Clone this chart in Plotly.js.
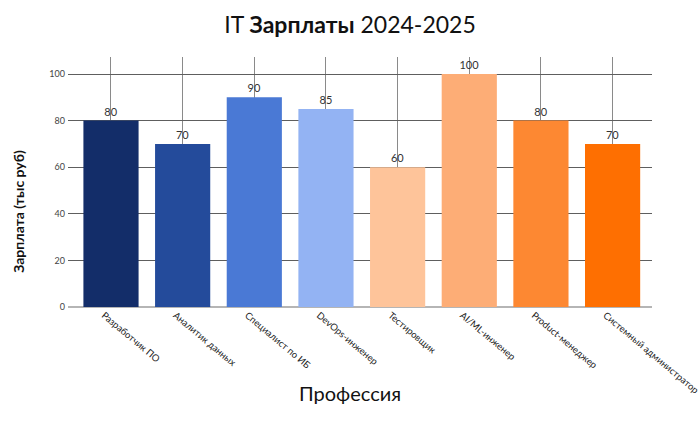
<!DOCTYPE html>
<html>
<head>
<meta charset="utf-8">
<script src="https://cdn.plot.ly/plotly-3.0.1.min.js"></script>
<style>
  html, body { margin: 0; padding: 0; background: #fff; }
  #chart { width: 700px; height: 422px; }
</style>
</head>
<body>
<div id="chart"></div>
<script>
// профессии и зарплаты (тыс руб)
var professions = ['Разработчик ПО', 'Аналитик данных', 'Специалист по ИБ', 'DevOps-инженер',
                   'Тестировщик', 'AI/ML-инженер', 'Product-менеджер', 'Системный администратор'];
var salaries = [80, 70, 90, 85, 60, 100, 80, 70];
var barColors = ['#132d69', '#244b9b', '#4a79d5', '#93b3f3', '#fec49a', '#fdad76', '#fd8832', '#fe6f01'];
var yTicks = [0, 20, 40, 60, 80, 100];

var font = 'Lato, "Open Sans", sans-serif';

var trace = {
    type: 'bar',
    x: professions,
    y: salaries,
    marker: { color: barColors, line: { width: 0 } },
    text: salaries.map(String),
    textposition: 'outside',
    cliponaxis: false,
    textfont: { family: font, size: 11, color: '#333' },
    hoverinfo: 'x+y'
};

var layout = {
    width: 700,
    height: 422,
    margin: { l: 68, r: 48, t: 57, b: 115 },
    paper_bgcolor: '#fff',
    plot_bgcolor: '#fff',
    bargap: 0.23,
    showlegend: false,
    font: { family: font, color: '#333' },
    title: {
        text: 'IT <b>Зарплаты</b> 2024-2025',
        font: { family: font, size: 23, color: '#111' },
        x: 0.5, xanchor: 'center',
        y: 0.94, yanchor: 'middle'
    },
    xaxis: {
        type: 'category',
        range: [-0.6, 7.55],
        tickangle: 40,
        ticklabelshift: -7,
        tickfont: { family: font, size: 9.5, color: '#222' },
        showgrid: true,
        gridcolor: '#8a8a8a',
        gridwidth: 1,
        showline: false,
        ticks: '',
        fixedrange: true
    },
    yaxis: {
        range: [0, 107.3],
        tickvals: yTicks,
        tickfont: { family: font, size: 9, color: '#444' },
        showgrid: true,
        gridcolor: '#5e5e5e',
        gridwidth: 1,
        zeroline: true,
        zerolinecolor: '#b5b5b5',
        zerolinewidth: 2,
        showline: false,
        ticks: '',
        ticklabelstandoff: 2,
        fixedrange: true
    },
    annotations: [
        {
            text: '<b>Зарплата (тыс руб)</b>',
            xref: 'paper', yref: 'paper',
            x: -0.086, y: 0.384,
            xanchor: 'center', yanchor: 'middle',
            textangle: -90,
            showarrow: false,
            font: { family: font, size: 14, color: '#111' }
        },
        {
            text: 'Профессия',
            xref: 'paper', yref: 'paper',
            x: 0.483, y: -0.344,
            xanchor: 'center', yanchor: 'middle',
            showarrow: false,
            font: { family: font, size: 20, color: '#111' }
        }
    ]
};

Plotly.newPlot('chart', [trace], layout, { displayModeBar: false, staticPlot: true });
</script>
</body>
</html>
